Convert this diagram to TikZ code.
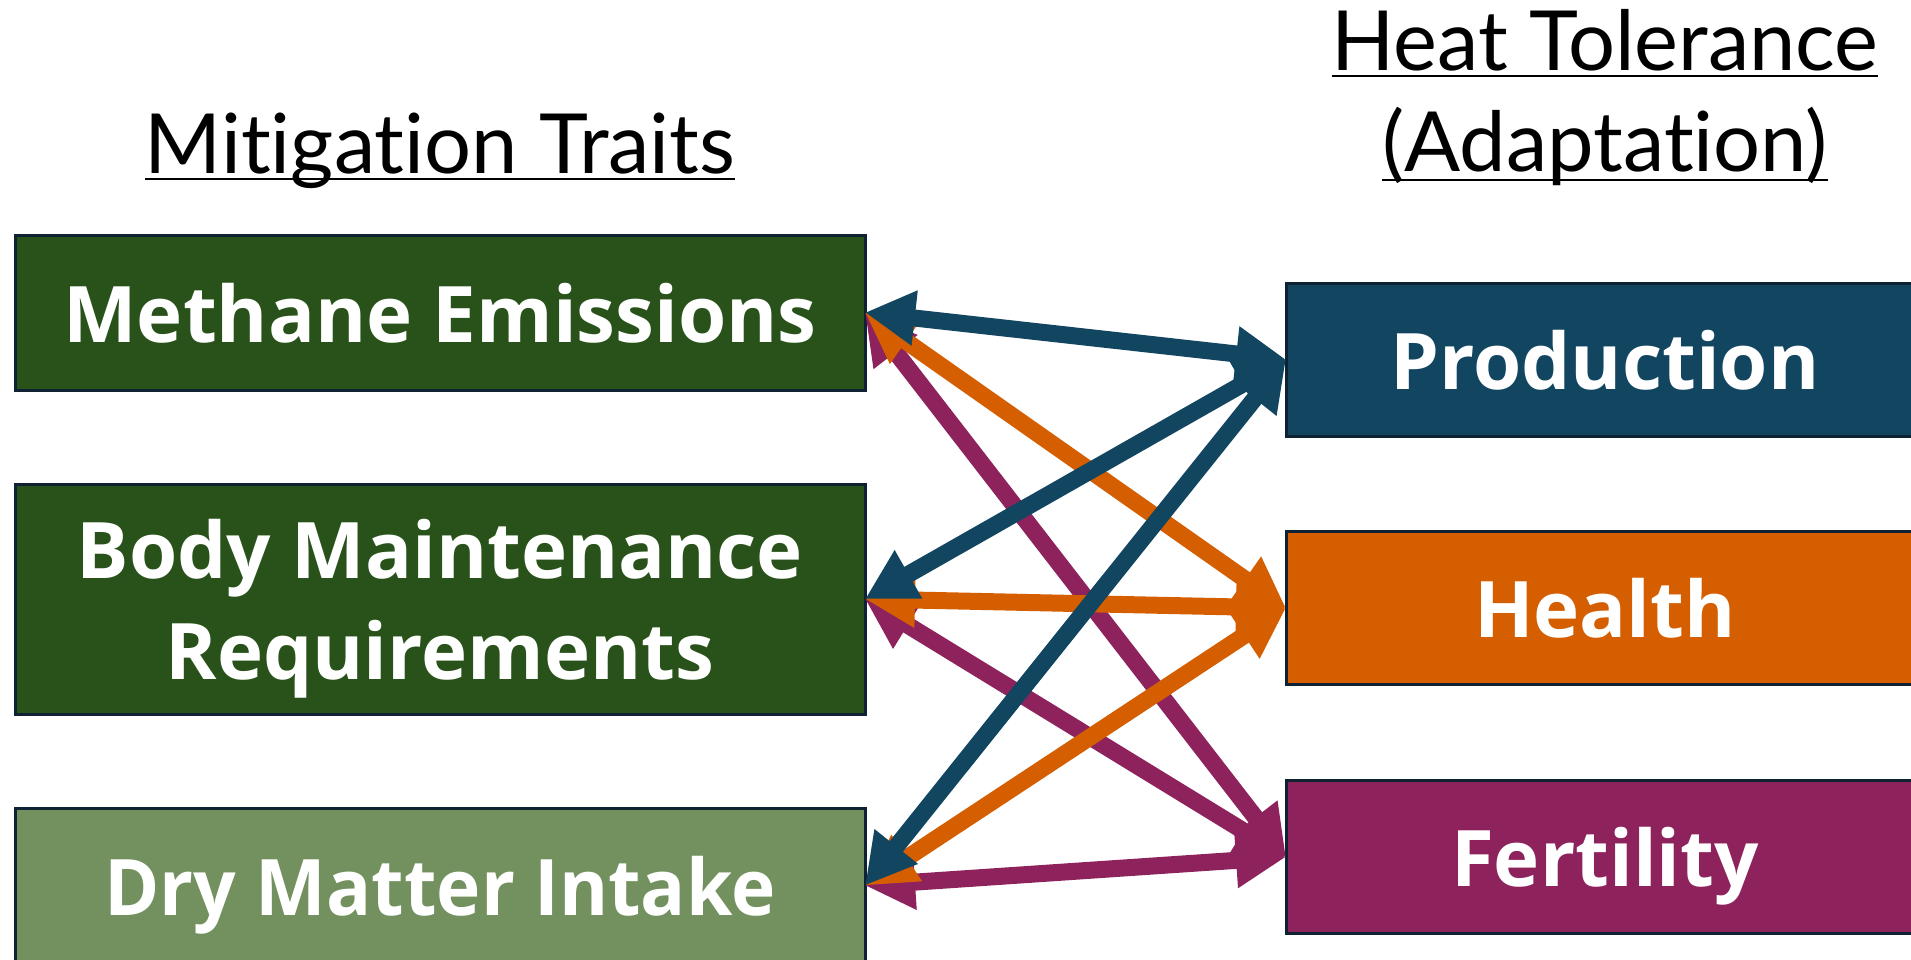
\documentclass[tikz,border=0pt]{standalone}
\usepackage{fontspec}
\setmainfont{Lato}[Ligatures=NoCommon]
\newfontfamily\boxfont{Open Sans}[Ligatures=NoCommon]
\usetikzlibrary{arrows.meta}
\definecolor{gdark}{HTML}{285219}
\definecolor{glight}{HTML}{73905F}
\definecolor{cblue}{HTML}{124660}
\definecolor{corange}{HTML}{D55E00}
\definecolor{cpurple}{HTML}{8E225C}
\definecolor{cborder}{HTML}{0E2233}
\tikzset{
  box/.style={draw=cborder, line width=3pt, outer sep=0pt, inner sep=0pt, text=white,
    font=\boxfont\fontsize{78}{101}\selectfont\bfseries, align=center, text depth=0pt},
  lbox/.style={box, minimum width=850pt},
  rbox/.style={box, minimum width=638pt, minimum height=153pt},
  title/.style={inner sep=0pt, outer sep=0pt, font=\fontsize{83}{90}\selectfont, anchor=base},
  ul/.style={line width=2.5pt, black},
  conn/.style={line width=17pt, {Triangle[length=50pt,width=52pt]}-{Triangle[length=50pt,width=52pt]}}
}
\begin{document}
\begin{tikzpicture}[x=1pt,y=-1pt]
\useasboundingbox (0,0) rectangle (1911,960);
\fill[white] (0,0) rectangle (1911,960);
% titles
\node[title] (t1) at (440,174) {Mitigation Traits};
\node[title] (t2) at (1605,71) {Heat Tolerance};
\node[title] (t3) at (1605,172) {(Adaptation)};
\draw[ul] ([yshift=-5pt]t1.base west) -- ([yshift=-5pt]t1.base east);
\draw[ul] ([yshift=-5pt]t2.base west) -- ([yshift=-5pt]t2.base east);
\draw[ul] ([yshift=-8pt]t3.base west) -- ([yshift=-8pt]t3.base east);
% left boxes
\node[lbox, fill=gdark, minimum height=155pt] (M) at (440,312.5) {Methane Emissions};
\node[lbox, fill=gdark, minimum height=230pt] (B) at (440,599) {Body Maintenance\\Requirements};
\node[lbox, fill=glight, minimum height=155pt] (D) at (440,885.5) {\scalebox{0.96}[1]{Dry Matter Intake}};
% right boxes
\node[rbox, fill=cblue] (P) at (1605,359.5) {Production};
\node[rbox, fill=corange] (H) at (1605,608) {Health};
\node[rbox, fill=cpurple] (F) at (1605,857) {Fertility};
% connectors
\draw[conn, cpurple] (M.east) -- (F.west);
\draw[conn, cpurple] (D.east) -- (F.west);
\draw[conn, cpurple] (B.east) -- (F.west);
\draw[conn, corange] (M.east) -- (H.west);
\draw[conn, corange] (D.east) -- (H.west);
\draw[conn, corange] (B.east) -- (H.west);
\draw[conn, cblue] (M.east) -- (P.west);
\draw[conn, cblue] (B.east) -- (P.west);
\draw[conn, cblue] (D.east) -- (P.west);
\end{tikzpicture}
\end{document}
